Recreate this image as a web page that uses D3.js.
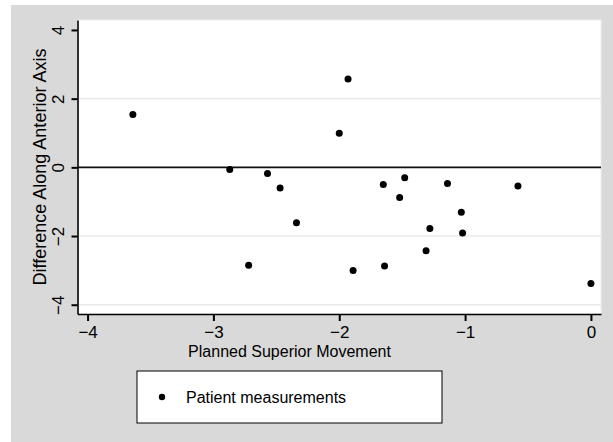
<!DOCTYPE html>
<html>
<head>
<meta charset="utf-8">
<script src="https://cdn.jsdelivr.net/npm/d3@7"></script>
<style>
  html, body { margin: 0; padding: 0; background: #fff; }
  svg { display: block; font-family: "Liberation Sans", Arial, Helvetica, sans-serif; }
</style>
</head>
<body>
<svg id="chart" width="613" height="442"></svg>
<script>
// ── Data ──
const plannedSuperior = [-3.64, -2.87, -2.57, -2.47, -2.34, -2.72, -1.93, -2.00, -1.65, -1.48,
                         -1.52, -1.14, -0.58, -1.03, -1.28, -1.02, -1.31, -1.64, -1.89, 0.00];
const anteriorDiff    = [1.54, -0.06, -0.18, -0.60, -1.61, -2.85, 2.57, 0.99, -0.50, -0.30,
                         -0.88, -0.47, -0.54, -1.31, -1.78, -1.91, -2.43, -2.87, -3.00, -3.38];
const xTicks = [-4, -3, -2, -1, 0];
const yTicks = [-4, -2, 0, 2, 4];
const gridTicks = [-4, -2, 2];
const xTitle = 'Planned Superior Movement';
const yTitle = 'Difference Along Anterior Axis';
const legendLabel = 'Patient measurements';

const points = plannedSuperior.map((x, i) => ({ x, y: anteriorDiff[i] }));

// ── Layout ──
const svg = d3.select('#chart');
const plotLeft = 77.5, plotRight = 601, plotTop = 20, plotBottom = 314;

// grey graph region
svg.append('rect')
  .attr('x', 11).attr('y', 5).attr('width', 602).attr('height', 437)
  .attr('fill', '#d9d9d9');

// white plot region
svg.append('rect')
  .attr('x', plotLeft).attr('y', plotTop)
  .attr('width', plotRight - plotLeft).attr('height', plotBottom - plotTop)
  .attr('fill', '#fff').attr('stroke', '#efefef').attr('stroke-width', 1);

const x = d3.scaleLinear().domain([-4.08, 0.08]).range([plotLeft, plotRight]);
const y = d3.scaleLinear().domain([-4.27, 4.29]).range([plotBottom, plotTop]);

// grid lines
svg.append('g')
  .selectAll('line').data(gridTicks).join('line')
  .attr('x1', plotLeft + 1).attr('x2', plotRight)
  .attr('y1', d => y(d)).attr('y2', d => y(d))
  .attr('stroke', '#ebebeb').attr('stroke-width', 1.6);

// zero reference line
svg.append('line')
  .attr('x1', plotLeft).attr('x2', plotRight)
  .attr('y1', y(0)).attr('y2', y(0))
  .attr('stroke', '#111').attr('stroke-width', 1.6);

// ── Axes ──
const yAxis = svg.append('g')
  .attr('transform', `translate(${plotLeft},0)`)
  .call(d3.axisLeft(y).tickValues(yTicks).tickSize(6).tickSizeOuter(0).tickFormat(d3.format('d')));

const xAxis = svg.append('g')
  .attr('transform', `translate(0,${plotBottom})`)
  .call(d3.axisBottom(x).tickValues(xTicks).tickSize(7).tickSizeOuter(0).tickPadding(5).tickFormat(d3.format('d')));

[xAxis, yAxis].forEach(ax => {
  ax.select('.domain').attr('stroke', '#000').attr('stroke-width', 1.6);
  ax.selectAll('.tick line').attr('stroke', '#000').attr('stroke-width', 2);
  ax.selectAll('.tick text').attr('fill', '#000').attr('font-size', '17px')
    .attr('font-family', '"Liberation Sans", Arial, sans-serif');
});

// vertical y tick labels
yAxis.selectAll('.tick text')
  .attr('transform', 'rotate(-90)')
  .attr('x', 0).attr('y', -14).attr('dy', 0)
  .attr('text-anchor', 'middle');

// ── Titles ──
svg.append('text')
  .attr('transform', `translate(46,${(plotTop + plotBottom) / 2}) rotate(-90)`)
  .attr('text-anchor', 'middle')
  .attr('font-size', '18px').attr('fill', '#000')
  .text(yTitle);

svg.append('text')
  .attr('x', 289.5).attr('y', 357)
  .attr('text-anchor', 'middle')
  .attr('font-size', '16px').attr('fill', '#000')
  .text(xTitle);

// ── Points ──
svg.append('g')
  .selectAll('circle').data(points).join('circle')
  .attr('cx', d => x(d.x)).attr('cy', d => y(d.y))
  .attr('r', 3.5).attr('fill', '#000');

// ── Legend ──
const legend = svg.append('g');
legend.append('rect')
  .attr('x', 137).attr('y', 371).attr('width', 305).attr('height', 52)
  .attr('fill', '#fff').attr('stroke', '#000').attr('stroke-width', 1);
legend.append('circle')
  .attr('cx', 162).attr('cy', 397).attr('r', 3.2).attr('fill', '#000');
legend.append('text')
  .attr('x', 186).attr('y', 403)
  .attr('font-size', '16px').attr('fill', '#000')
  .text(legendLabel);
</script>
</body>
</html>
